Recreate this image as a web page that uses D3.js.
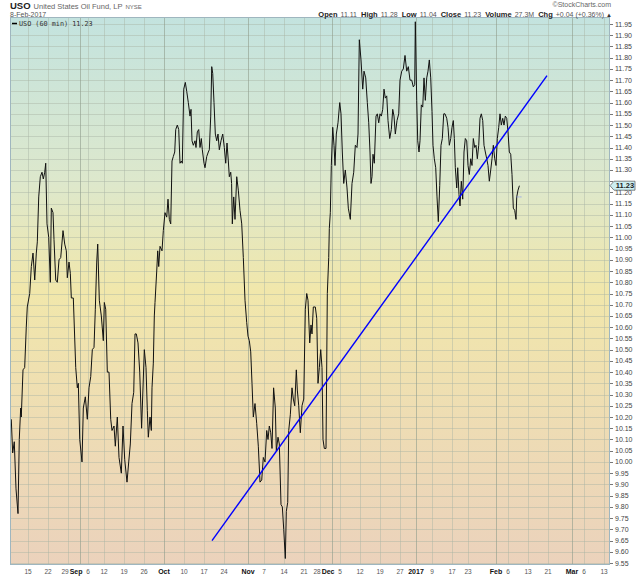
<!DOCTYPE html>
<html>
<head>
<meta charset="utf-8">
<script src="https://cdn.jsdelivr.net/npm/d3@7"></script>
<style>
  body { margin: 0; background: #fff; }
  svg { display: block; font-family: "Liberation Sans", Arial, sans-serif; }
</style>
</head>
<body>
<svg id="chart" width="640" height="576"></svg>
<script>
// trading-day index, 0 = Mon 15 Aug 2016 (60 min bars, sampled)
const days = [
  -4.18,-3.83,-3.43,-3.0,-2.5,-2.18,-1.83,-1.68,-1.25,-0.83,-0.43,-0.18,0.43,0.83,1.25,1.68,2.08,2.33,2.68,3.08,
  3.5,3.83,4.18,4.43,4.75,5.18,5.58,5.83,6.25,6.5,6.93,7.33,7.75,8.18,8.75,9.18,9.58,9.83,10.25,10.58,
  10.83,11.33,11.93,12.33,12.58,12.93,13.5,13.83,14.33,14.83,15.25,15.68,16.08,16.5,16.83,17.18,17.43,17.83,18.33,18.83,
  19.08,19.43,19.83,20.25,20.68,21.0,21.5,21.83,22.33,22.75,23.33,23.75,24.18,24.75,25.18,25.58,26.0,26.43,26.75,27.08,
  27.5,27.93,28.4,29.08,29.5,29.83,30.08,30.5,30.83,31.0,31.33,31.58,31.75,32.18,32.43,32.68,33.0,33.5,33.83,34.25,
  34.68,35.0,35.33,35.68,36.0,36.33,36.68,36.93,37.33,37.68,38.0,38.33,38.58,38.93,39.33,39.68,40.08,40.5,40.75,41.0,
  41.33,41.75,42.0,42.33,42.68,43.0,43.33,43.58,44.0,44.25,44.68,45.08,45.33,45.68,45.93,46.18,46.5,46.83,47.18,47.5,
  47.83,48.25,48.68,49.08,49.43,49.75,50.08,50.33,50.68,50.9,51.08,51.43,51.75,52.18,52.58,53.0,53.43,53.83,54.25,54.68,
  55.0,55.33,55.68,56.0,56.33,56.75,57.18,57.58,58.0,58.43,58.83,59.25,59.68,60.0,60.33,60.68,61.0,61.4,61.83,62.08,
  62.5,62.83,63.25,63.58,63.93,64.33,64.58,64.93,65.18,65.58,66.0,66.33,66.68,67.08,67.33,67.68,68.08,68.5,68.93,69.33,
  69.68,70.0,70.43,70.75,71.0,71.33,71.83,72.18,72.5,72.83,73.18,73.5,73.75,74.08,74.5,74.83,75.18,75.33,75.58,75.83,
  76.18,76.5,76.75,77.08,77.5,77.93,78.25,78.58,78.93,79.33,79.75,80.08,80.58,81.0,81.43,81.83,82.25,82.5,82.83,83.25,
  83.68,84.0,84.43,84.83,85.18,85.5,85.75,86.0,86.25,86.58,87.0,87.33,87.68,88.0,88.33,88.68,89.0,89.33,89.68,90.0,
  90.43,90.83,91.18,91.5,91.83,92.25,92.68,93.0,93.43,93.83,94.25,94.68,95.08,95.5,95.93,96.33,96.68,96.83,97.18,97.43,
  97.75,98.0,98.33,98.68,99.0,99.33,99.68,100.0,100.33,100.68,101.0,101.25,101.58,101.93,102.25,102.58,102.93,103.25,103.58,103.93,
  104.25,104.68,105.0,105.33,105.68,106.0,106.33,106.58,106.83,107.18,107.43,107.75,108.0,108.33,108.68,109.0,109.33,109.68,110.0,110.33,
  110.68,111.0,111.33,111.68,112.0,112.33,112.68,113.0,113.33,113.68,114.0,114.33,114.68,115.0,115.33,115.68,116.0,116.33,116.68,117.0,
  117.33,117.68,118.0,118.33,118.68,119.0,119.33,119.68,120.0,120.33,120.68,121.0,121.33,121.68,122.0,122.18,122.5,122.85
];
const prices = [
  10.19,10.04,10.09,9.88,9.77,10.10,10.24,10.20,10.41,10.42,10.60,10.69,10.75,10.87,10.93,10.81,10.93,10.98,11.18,11.27,
  11.29,11.26,11.29,11.33,11.06,11.00,10.80,11.13,11.11,10.99,10.81,10.80,10.90,10.91,11.03,10.97,10.94,10.82,10.89,10.84,
  10.73,10.73,10.42,10.33,10.35,10.10,10.00,10.24,10.29,10.19,10.33,10.38,10.50,10.51,10.68,10.89,10.97,10.72,10.65,10.54,
  10.71,10.68,10.40,10.40,10.19,10.14,10.16,10.07,10.20,10.02,9.95,10.16,10.01,9.91,10.00,10.08,10.26,10.31,10.57,10.57,
  10.53,10.40,10.15,10.50,10.42,10.23,10.11,10.20,10.14,10.33,10.44,10.65,10.71,10.85,10.94,10.87,10.96,10.94,11.03,11.11,
  11.09,11.17,11.08,11.06,11.34,11.36,11.38,11.48,11.50,11.48,11.33,11.34,11.33,11.66,11.69,11.65,11.60,11.54,11.57,11.43,
  11.41,11.43,11.40,11.47,11.48,11.40,11.44,11.39,11.33,11.31,11.36,11.38,11.39,11.54,11.76,11.73,11.60,11.46,11.43,11.46,
  11.39,11.43,11.46,11.40,11.33,11.42,11.34,11.27,11.29,11.24,11.06,11.18,11.08,11.27,11.21,11.12,11.06,10.91,10.72,10.62,
  10.56,10.54,10.49,10.35,10.20,10.26,10.17,10.07,9.91,9.92,10.02,10.00,10.14,10.10,10.16,10.13,10.06,10.33,10.24,10.05,
  10.11,10.08,9.81,9.80,9.70,9.57,9.78,9.82,10.14,10.21,10.33,10.28,10.25,10.41,10.32,10.25,10.13,10.25,10.28,10.68,
  10.75,10.72,10.53,10.61,10.57,10.69,10.69,10.64,10.35,10.42,10.50,10.42,10.10,10.06,10.06,10.75,10.91,11.04,11.11,11.32,
  11.49,11.41,11.32,11.46,11.51,11.60,11.55,11.38,11.24,11.30,11.22,11.13,11.08,11.24,11.29,11.41,11.40,11.46,11.88,11.79,
  11.66,11.74,11.71,11.60,11.51,11.38,11.24,11.27,11.37,11.33,11.54,11.55,11.51,11.55,11.54,11.57,11.66,11.62,11.63,11.52,
  11.44,11.48,11.57,11.54,11.46,11.52,11.55,11.70,11.74,11.75,11.81,11.74,11.76,11.70,11.70,11.67,11.68,11.96,11.61,11.43,
  11.38,11.43,11.59,11.58,11.71,11.61,11.71,11.74,11.79,11.71,11.56,11.41,11.35,11.31,11.18,11.07,11.23,11.41,11.44,11.55,
  11.55,11.53,11.49,11.41,11.44,11.49,11.52,11.44,11.31,11.22,11.31,11.19,11.14,11.25,11.17,11.38,11.44,11.43,11.32,11.28,
  11.35,11.32,11.44,11.40,11.41,11.35,11.41,11.53,11.55,11.52,11.41,11.38,11.35,11.32,11.25,11.30,11.35,11.41,11.35,11.32,
  11.44,11.49,11.55,11.50,11.53,11.50,11.54,11.53,11.47,11.38,11.37,11.28,11.13,11.12,11.08,11.18,11.21,11.23
];
const trendDays = [46.0, 129.75];
const trendPrices = [9.65, 11.72];
const lastClose = 11.23;
const markerPrice = 11.18;

const tickDays = [0,5,10,13,15,19,24,29,34,39,44,49,55,59,64,69,73,76,78,83,88,93,97,101,106,110,117,120,125,130,136,139,144];
const tickLabels = ["15","22","29","Sep","6","12","19","26","Oct","10","17","24","Nov","7","14","21","28","Dec","5","12","19","27","2017","9","17","23","Feb","6","13","21","Mar","6","13"];
const monthLabels = ["Sep","Oct","Nov","Dec","2017","Feb","Mar"];
const priceTicks = d3.range(9.55, 11.96, 0.05).map(v => +v.toFixed(2));

const statLabels = ["Open","High","Low","Close","Volume","Chg"];
const statValues = ["11.11","11.28","11.04","11.23","27.3M","+0.04 (+0.36%)"];

const svg = d3.select('#chart');
const plot = {left: 10, right: 610, top: 17, bottom: 565};

let x = d3.scaleLinear().domain([-4.5, 145.5]).range([plot.left, plot.right]);
let y = d3.scaleLinear().domain([9.55, 11.95]).range([563, 24]);

let isMonth = i => monthLabels.includes(tickLabels[i]);

// background gradient
let grad = svg.append('defs').append('linearGradient')
    .attr('id', 'bg').attr('x1', 0).attr('y1', 0).attr('x2', 0).attr('y2', 1);
[[0, '#c3e3df'], [0.3, '#dde8cc'], [0.5, '#f1e7ab'], [0.75, '#eedcb4'], [1, '#ebd2bc']]
    .forEach(s => grad.append('stop').attr('offset', s[0]).attr('stop-color', s[1]));

svg.append('rect')
    .attr('x', plot.left).attr('y', plot.top)
    .attr('width', plot.right - plot.left).attr('height', plot.bottom - plot.top)
    .attr('fill', 'url(#bg)');

let clip = svg.select('defs').append('clipPath').attr('id', 'clip');
clip.append('rect')
    .attr('x', plot.left).attr('y', plot.top)
    .attr('width', plot.right - plot.left).attr('height', plot.bottom - plot.top);

// grid
let grid = svg.append('g').attr('clip-path', 'url(#clip)');
grid.selectAll('.hgrid')
    .data(priceTicks)
    .enter().append('line')
    .attr('class', 'hgrid')
    .attr('x1', plot.left).attr('x2', plot.right)
    .attr('y1', d => Math.round(y(d)) + 0.5).attr('y2', d => Math.round(y(d)) + 0.5)
    .attr('stroke', '#a9b4a4').attr('stroke-opacity', 0.45);
grid.selectAll('.vgrid')
    .data(tickDays)
    .enter().append('line')
    .attr('class', 'vgrid')
    .attr('x1', d => Math.round(x(d)) + 0.5).attr('x2', d => Math.round(x(d)) + 0.5)
    .attr('y1', plot.top).attr('y2', plot.bottom)
    .attr('stroke', (d, i) => isMonth(i) ? '#8f9c8c' : '#a9b4a4')
    .attr('stroke-opacity', (d, i) => isMonth(i) ? 0.6 : 0.45);

// price line
let series = days.map((d, i) => ({day: d, price: prices[i]}));
let line = d3.line().x(d => x(d.day)).y(d => y(d.price));
svg.append('path')
    .datum(series)
    .attr('clip-path', 'url(#clip)')
    .attr('d', line)
    .attr('fill', 'none')
    .attr('stroke', '#111')
    .attr('stroke-width', 1)
    .attr('stroke-linejoin', 'round');

// trend line
let trend = trendDays.map((d, i) => ({day: d, price: trendPrices[i]}));
svg.append('path')
    .datum(trend)
    .attr('d', line)
    .attr('fill', 'none')
    .attr('stroke', '#0000ff')
    .attr('stroke-width', 1.4);

// small close marker
svg.append('line')
    .attr('x1', x(122.1)).attr('x2', x(123.6))
    .attr('y1', y(markerPrice)).attr('y2', y(markerPrice))
    .attr('stroke', '#6677ff').attr('stroke-width', 0.8)
    .attr('stroke-dasharray', '1,1');

// plot border
svg.append('rect')
    .attr('x', plot.left + 0.5).attr('y', plot.top + 0.5)
    .attr('width', plot.right - plot.left - 1).attr('height', plot.bottom - plot.top - 1)
    .attr('fill', 'none').attr('stroke', '#9fb6bf');

// right axis (labels hidden under the last-price tag are skipped)
let ty = y(lastClose);
let axisTicks = priceTicks.filter(d => Math.abs(y(d) - ty) > 6);
let yAxis = svg.append('g').attr('class', 'axis axis--y');
yAxis.selectAll('line')
    .data(priceTicks)
    .enter().append('line')
    .attr('x1', plot.right).attr('x2', plot.right + 3)
    .attr('y1', d => Math.round(y(d)) + 0.5).attr('y2', d => Math.round(y(d)) + 0.5)
    .attr('stroke', '#777');
yAxis.selectAll('text')
    .data(axisTicks)
    .enter().append('text')
    .attr('x', plot.right + 5)
    .attr('y', d => y(d) + 2.5)
    .attr('font-size', 7)
    .attr('fill', '#444')
    .text(d => d.toFixed(2));

// last price tag
let tag = svg.append('g');
tag.append('path')
    .attr('d', `M${plot.right},${ty} L${plot.right + 4},${ty - 4.5} L${plot.right + 25},${ty - 4.5} L${plot.right + 25},${ty + 4.5} L${plot.right + 4},${ty + 4.5} Z`)
    .attr('fill', '#cdeff2').attr('stroke', '#555').attr('stroke-width', 0.7);
tag.append('text')
    .attr('x', plot.right + 15).attr('y', ty + 2.6)
    .attr('text-anchor', 'middle')
    .attr('font-size', 7.5).attr('font-weight', 'bold')
    .attr('fill', '#222')
    .text(lastClose.toFixed(2));

// bottom axis labels; a month label crowded by the next tick is set to its left,
// and the label before it steps aside a little
let crowded = i => isMonth(i) && i + 1 < tickDays.length && tickDays[i + 1] - tickDays[i] <= 2;
let labelX = (d, i) => crowded(i) ? x(d) + 2.5 : (crowded(i + 1) ? x(d) - 3 : x(d));
svg.append('g').attr('class', 'axis axis--x')
    .selectAll('text')
    .data(tickDays)
    .enter().append('text')
    .attr('x', labelX)
    .attr('y', 574)
    .attr('text-anchor', (d, i) => crowded(i) ? 'end' : 'middle')
    .attr('font-size', (d, i) => isMonth(i) ? 7 : 6.5)
    .attr('font-weight', (d, i) => isMonth(i) ? 'bold' : 'normal')
    .attr('fill', (d, i) => isMonth(i) ? '#111' : '#555')
    .text((d, i) => tickLabels[i]);

// header
let title = svg.append('text').attr('x', 10).attr('y', 9);
title.append('tspan').attr('font-size', 9.5).attr('font-weight', 'bold').attr('fill', '#222').text('USO');
title.append('tspan').attr('dx', 3).attr('font-size', 7.5).attr('fill', '#666').text('United States Oil Fund, LP');
title.append('tspan').attr('dx', 3).attr('font-size', 6).attr('fill', '#666').text('NYSE');

svg.append('text')
    .attr('x', 10).attr('y', 16.5)
    .attr('font-size', 7).attr('fill', '#555')
    .text('8-Feb-2017');

svg.append('text')
    .attr('x', 611).attr('y', 7)
    .attr('text-anchor', 'end')
    .attr('font-size', 7).attr('fill', '#666')
    .text('\u00A9StockCharts.com');

let stats = svg.append('text')
    .attr('x', 604).attr('y', 16.5)
    .attr('text-anchor', 'end');
statLabels.forEach((lab, i) => {
    stats.append('tspan').attr('dx', i === 0 ? 0 : 4)
        .attr('font-size', 7.5).attr('font-weight', 'bold').attr('fill', '#222').text(lab);
    stats.append('tspan').attr('dx', 3)
        .attr('font-size', 7).attr('fill', '#555').text(statValues[i]);
});
svg.append('text')
    .attr('x', 606).attr('y', 16.5)
    .attr('font-size', 6).attr('fill', '#333')
    .text('\u25B2');

// legend
let legend = svg.append('g');
legend.append('line')
    .attr('x1', 12).attr('x2', 17).attr('y1', 23.5).attr('y2', 23.5)
    .attr('stroke', '#000').attr('stroke-width', 1.5);
legend.append('text')
    .attr('x', 19).attr('y', 26)
    .attr('font-family', '"DejaVu Sans Mono", monospace')
    .attr('font-size', 6.8).attr('fill', '#333')
    .text('USO (60 min) 11.23');
</script>
</body>
</html>
